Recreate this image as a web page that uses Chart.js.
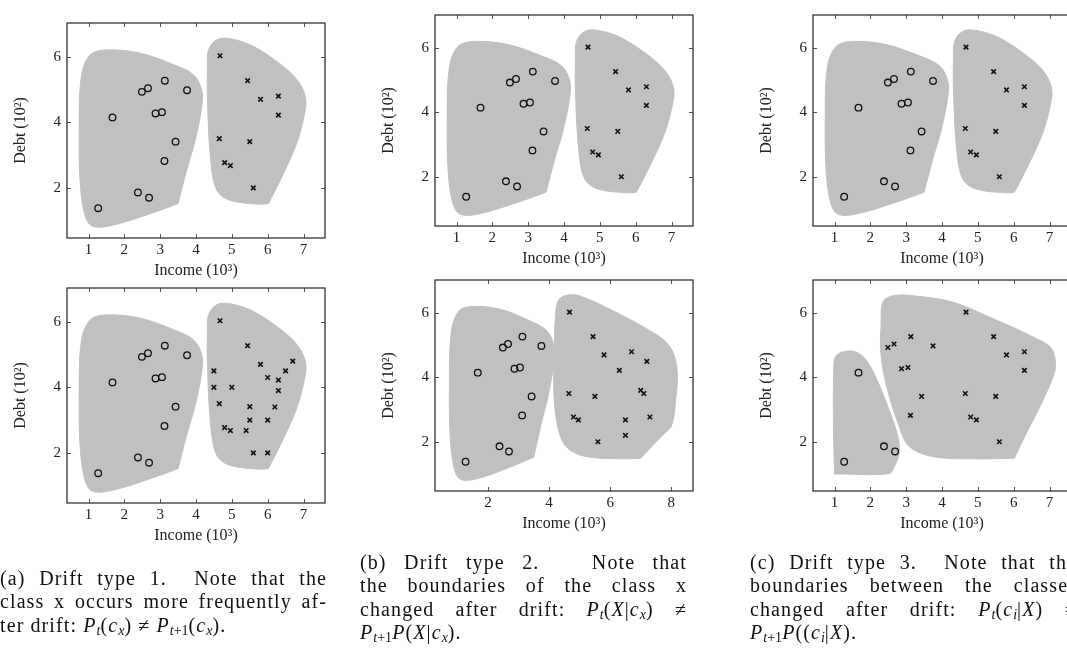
<!DOCTYPE html>
<html>
<head>
<meta charset="utf-8">
<script src="https://cdn.jsdelivr.net/npm/chart.js@4.4.1/dist/chart.umd.min.js"></script>
<style>
  html, body { margin: 0; padding: 0; background: #fff; }
  #page { position: relative; width: 1067px; height: 654px; overflow: hidden; }
  .plot { position: absolute; }
  .cap {
    position: absolute; width: 327px;
    font-family: "Liberation Serif", serif; font-size: 20px; line-height: 23.4px;
    letter-spacing: 1.1px; color: #111;
  }
  .cap div { text-align: justify; text-align-last: justify; white-space: nowrap; }
  .cap div.last { text-align-last: left; }
  .cap sub { font-size: 70%; vertical-align: -3px; line-height: 0; letter-spacing: 0; }
</style>
</head>
<body>
<div id="page">
  <canvas class="plot" id="a1" style="left:0;top:0" width="345" height="285"></canvas>
  <canvas class="plot" id="a2" style="left:0;top:265px" width="345" height="285"></canvas>
  <canvas class="plot" id="b1" style="left:368px;top:0" width="345" height="273"></canvas>
  <canvas class="plot" id="b2" style="left:368px;top:265px" width="345" height="273"></canvas>
  <canvas class="plot" id="c1" style="left:746px;top:0" width="345" height="273"></canvas>
  <canvas class="plot" id="c2" style="left:746px;top:265px" width="345" height="273"></canvas>

  <div class="cap" style="left:0;top:567px">
    <div>(a) Drift type 1.&nbsp; Note that the</div>
    <div>class x occurs more frequently af-</div>
    <div class="last">ter drift: <i>P</i><sub><i>t</i></sub>(<i>c</i><sub><i>x</i></sub>) ≠ <i>P</i><sub><i>t</i>+1</sub>(<i>c</i><sub><i>x</i></sub>).</div>
  </div>
  <div class="cap" style="left:360px;top:551px">
    <div>(b) Drift type 2.&nbsp;&nbsp; Note that</div>
    <div>the boundaries of the class x</div>
    <div>changed after drift: <i>P</i><sub><i>t</i></sub>(<i>X</i>|<i>c</i><sub><i>x</i></sub>) ≠</div>
    <div class="last"><i>P</i><sub><i>t</i>+1</sub><i>P</i>(<i>X</i>|<i>c</i><sub><i>x</i></sub>).</div>
  </div>
  <div class="cap" style="left:750px;top:551px">
    <div>(c) Drift type 3.&nbsp; Note that the</div>
    <div>boundaries between the classes</div>
    <div>changed after drift: <i>P</i><sub><i>t</i></sub>(<i>c</i><sub><i>i</i></sub>|<i>X</i>) ≠</div>
    <div class="last"><i>P</i><sub><i>t</i>+1</sub><i>P</i>((<i>c</i><sub><i>i</i></sub>|<i>X</i>).</div>
  </div>
</div>

<script>
// tick labels
const xTicks = [1, 2, 3, 4, 5, 6, 7]
const xTicksWide = [2, 4, 6, 8]
const yTicks = [2, 4, 6]

// class o (circles), before drift
const circleX = [1.27, 1.67, 2.38, 2.49, 2.66, 2.69, 2.87, 3.05, 3.13, 3.12, 3.43, 3.75]
const circleY = [1.38, 4.15, 1.86, 4.93, 5.04, 1.70, 4.27, 4.31, 5.27, 2.82, 3.41, 4.98]

// class x (crosses), before drift
const crossX = [4.67, 5.44, 5.80, 6.30, 6.30, 4.65, 5.50, 4.80, 4.96, 5.60]
const crossY = [6.03, 5.27, 4.70, 4.80, 4.22, 3.50, 3.41, 2.77, 2.68, 2.00]

// drift type 1: more x samples
const crossX1 = [4.67, 5.44, 5.80, 6.70, 4.50, 6.50, 6.00, 6.30, 4.50, 5.00, 6.30, 4.65, 5.50, 6.20, 4.80, 4.96, 5.40, 5.50, 6.00, 5.60, 6.00]
const crossY1 = [6.03, 5.27, 4.70, 4.80, 4.50, 4.50, 4.30, 4.22, 4.00, 4.00, 3.90, 3.50, 3.41, 3.40, 2.77, 2.68, 2.68, 3.00, 3.00, 2.00, 2.00]

// drift type 2: x spreads out
const crossX2 = [4.67, 5.44, 5.80, 6.70, 7.20, 6.30, 4.65, 5.50, 7.00, 7.10, 4.80, 4.96, 6.50, 7.30, 6.50, 5.60]
const crossY2 = [6.03, 5.27, 4.70, 4.80, 4.50, 4.22, 3.50, 3.41, 3.60, 3.50, 2.77, 2.68, 2.68, 2.77, 2.20, 2.00]

// drift type 3: most o samples become x
const circleX3 = [1.27, 1.67, 2.38, 2.69]
const circleY3 = [1.38, 4.15, 1.86, 1.70]
const crossX3 = [2.49, 2.66, 2.87, 3.05, 3.13, 3.12, 3.43, 3.75, 4.67, 5.44, 5.80, 6.30, 6.30, 4.65, 5.50, 4.80, 4.96, 5.60]
const crossY3 = [4.93, 5.04, 4.27, 4.31, 5.27, 2.82, 3.41, 4.98, 6.03, 5.27, 4.70, 4.80, 4.22, 3.50, 3.41, 2.77, 2.68, 2.00]

// class regions (outlines, data units)
const regionOX = [3.50, 2.72, 1.60, 1.09, 0.89, 0.77, 0.74, 0.80, 1.05, 1.51, 2.44, 3.37, 3.93, 4.16, 4.16, 3.98, 3.74, 3.50]
const regionOY = [1.52, 1.21, 0.84, 0.84, 1.21, 2.13, 3.66, 5.40, 6.06, 6.21, 6.11, 5.76, 5.45, 4.99, 4.48, 3.46, 2.54, 1.52]
const regionXX = [6.02, 6.35, 6.81, 7.05, 7.05, 6.86, 6.44, 5.60, 4.95, 4.58, 4.35, 4.32, 4.32, 4.41, 4.58, 4.95, 5.79, 6.02]
const regionXY = [1.52, 2.23, 3.36, 4.38, 4.79, 5.24, 5.70, 6.32, 6.55, 6.52, 6.21, 5.70, 4.68, 2.85, 1.93, 1.62, 1.50, 1.52]
const regionX2X = [7.00, 7.71, 8.01, 8.14, 8.20, 8.09, 7.82, 7.27, 6.08, 4.99, 4.61, 4.34, 4.23, 4.17, 4.17, 4.34, 4.61, 5.21, 6.51, 7.00]
const regionX2Y = [1.49, 2.20, 2.51, 3.28, 4.09, 4.70, 5.11, 5.47, 6.08, 6.54, 6.56, 6.44, 6.13, 4.81, 3.28, 2.26, 1.80, 1.54, 1.47, 1.49]
const regionO3X = [1.00, 0.97, 0.98, 1.03, 1.28, 1.60, 1.88, 2.16, 2.53, 2.77, 2.80, 2.67, 2.52, 1.00]
const regionO3Y = [1.00, 2.50, 4.30, 4.65, 4.81, 4.79, 4.55, 3.99, 2.97, 2.15, 1.64, 1.23, 1.01, 1.00]
const regionX3X = [6.02, 6.35, 6.72, 7.09, 7.17, 7.05, 6.63, 5.42, 4.30, 3.19, 2.63, 2.35, 2.30, 2.29, 2.44, 2.81, 3.09, 3.74, 4.86, 6.02]
const regionX3Y = [1.49, 2.26, 3.07, 3.99, 4.40, 4.91, 5.21, 5.83, 6.34, 6.54, 6.54, 6.34, 5.62, 4.81, 3.79, 2.46, 1.85, 1.54, 1.47, 1.49]

const zip = (xs, ys) => xs.map((x, i) => ({ x, y: ys[i] }))

const circles = (xs, ys) => ({
  data: zip(xs, ys), pointStyle: "circle", pointRadius: 3.3, pointBorderWidth: 1.3,
  pointBorderColor: "#111", pointBackgroundColor: "rgba(0,0,0,0)", showLine: false
})
const crosses = (xs, ys) => ({
  data: zip(xs, ys), pointStyle: "crossRot", pointRadius: 3.2, pointBorderWidth: 1.6,
  pointBorderColor: "#111", showLine: false
})
const region = (xs, ys) => ({
  data: zip(xs, ys), showLine: true, fill: "shape", tension: 0.35,
  backgroundColor: "#c0c0c0", borderColor: "#c0c0c0", borderWidth: 1, pointRadius: 0
})

// box frame with inward ticks
const framePlugin = {
  id: "frame",
  afterDraw(chart) {
    const { ctx, chartArea: a, scales } = chart
    ctx.save()
    ctx.strokeStyle = "#555"
    ctx.lineWidth = 1
    scales.x.ticks.forEach((t) => {
      const px = Math.round(scales.x.getPixelForValue(t.value)) + 0.5
      ctx.beginPath()
      ctx.moveTo(px, a.bottom); ctx.lineTo(px, a.bottom - 4)
      ctx.moveTo(px, a.top); ctx.lineTo(px, a.top + 4)
      ctx.stroke()
    })
    scales.y.ticks.forEach((t) => {
      const py = Math.round(scales.y.getPixelForValue(t.value)) + 0.5
      ctx.beginPath()
      ctx.moveTo(a.left, py); ctx.lineTo(a.left + 4, py)
      ctx.moveTo(a.right, py); ctx.lineTo(a.right - 4, py)
      ctx.stroke()
    })
    ctx.strokeStyle = "#333"
    ctx.lineWidth = 1.3
    ctx.strokeRect(a.left, a.top, a.right - a.left, a.bottom - a.top)
    ctx.restore()
  }
}

const serif = "'Liberation Serif', serif"

function makeChart(id, padTop, xr, ticksX, datasets) {
  return new Chart(document.getElementById(id), {
    type: "scatter",
    data: { datasets },
    plugins: [framePlugin],
    options: {
      responsive: false,
      animation: false,
      events: [],
      layout: { padding: { left: 0, top: padTop, right: 20, bottom: 0 } },
      plugins: {
        legend: { display: false },
        tooltip: { enabled: false },
        filler: { drawTime: "beforeDatasetsDraw" }
      },
      scales: {
        x: {
          type: "linear", min: xr[0], max: xr[1],
          afterBuildTicks: (s) => { s.ticks = ticksX.map((v) => ({ value: v })) },
          afterFit: (s) => { s.height = 47 },
          grid: { display: false, drawTicks: false },
          border: { display: false },
          ticks: { padding: 3, color: "#222", font: { family: serif, size: 15 } },
          title: { display: true, text: "Income (10³)", color: "#222", padding: { top: 0, bottom: 5 }, font: { family: serif, size: 16 } }
        },
        y: {
          type: "linear", min: 0.47, max: 7.03,
          afterBuildTicks: (s) => { s.ticks = yTicks.map((v) => ({ value: v })) },
          afterFit: (s) => { s.width = 67 },
          grid: { display: false, drawTicks: false },
          border: { display: false },
          ticks: { padding: 6, color: "#222", font: { family: serif, size: 15 } },
          title: { display: true, text: "Debt (10²)", color: "#222", padding: { top: 11, bottom: 0 }, font: { family: serif, size: 16 } }
        }
      }
    }
  })
}

const narrow = [0.40, 7.60]
const wide = [0.27, 8.71]

const before = () => [
  circles(circleX, circleY), crosses(crossX, crossY),
  region(regionOX, regionOY), region(regionXX, regionXY)
]

makeChart("a1", 23, narrow, xTicks, before())
makeChart("a2", 23, narrow, xTicks, [
  circles(circleX, circleY), crosses(crossX1, crossY1),
  region(regionOX, regionOY), region(regionXX, regionXY)
])
makeChart("b1", 11, narrow, xTicks, before())
makeChart("b2", 11, wide, xTicksWide, [
  circles(circleX, circleY), crosses(crossX2, crossY2),
  region(regionOX, regionOY), region(regionX2X, regionX2Y)
])
makeChart("c1", 11, narrow, xTicks, before())
makeChart("c2", 11, narrow, xTicks, [
  circles(circleX3, circleY3), crosses(crossX3, crossY3),
  region(regionO3X, regionO3Y), region(regionX3X, regionX3Y)
])
</script>
</body>
</html>
